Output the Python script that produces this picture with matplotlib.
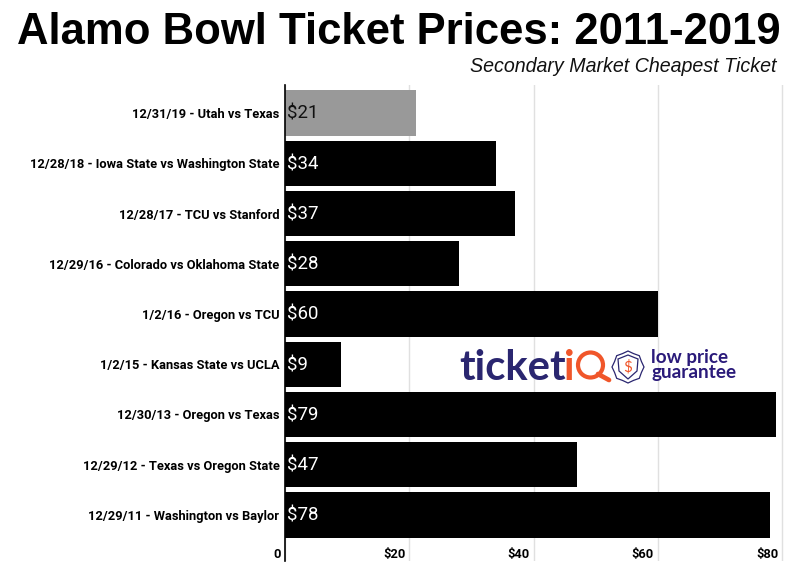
import numpy as np
import matplotlib
matplotlib.use("Agg")
import matplotlib.pyplot as plt
from matplotlib.patches import Circle, Polygon

# ---------------- DATA ----------------
games = [
    "12/31/19 - Utah vs Texas",
    "12/28/18 - Iowa State vs Washington State",
    "12/28/17 - TCU vs Stanford",
    "12/29/16 - Colorado vs Oklahoma State",
    "1/2/16 - Oregon vs TCU",
    "1/2/15 - Kansas State vs UCLA",
    "12/30/13 - Oregon vs Texas",
    "12/29/12 - Texas vs Oregon State",
    "12/29/11 - Washington vs Baylor",
]
prices = [21, 34, 37, 28, 60, 9, 79, 47, 78]
tick_values = [0, 20, 40, 60, 80]
tick_labels = ["0", "$20", "$40", "$60", "$80"]

W, H = 800, 577
NAVY = "#2a2670"
PURPLE = "#2a1a7a"
ORANGE = "#f0562a"
LABEL_FONT = "Roboto"
LABEL_SIZE = 9.25

fig = plt.figure(figsize=(W / 100, H / 100), dpi=100)
fig.patch.set_facecolor("white")

# axes box in pixels
left, right, top, bottom = 285, 790, 85, 561
ax = fig.add_axes([left / W, 1 - bottom / H, (right - left) / W, (bottom - top) / H])

ax.set_xlim(0, (right - left) / 6.215)
ax.set_ylim((bottom - 113) / 50.25, (top - 113) / 50.25)

y = np.arange(len(games))
colors = ["#999999"] + ["black"] * (len(games) - 1)
ax.barh(y, prices, height=0.905, color=colors, zorder=2)

for yi, price, c in zip(y, prices, colors):
    ax.annotate(f"${price}", (0, yi), xytext=(1.4, -0.7), textcoords="offset points",
                va="center", ha="left", fontsize=13.4, family=LABEL_FONT,
                color="#111111" if c != "black" else "white", zorder=3)

# ---- axes, grid, tick labels ----
for s in ["top", "right", "bottom"]:
    ax.spines[s].set_visible(False)
ax.spines["left"].set_color("black")
ax.spines["left"].set_linewidth(1.2)
ax.spines["left"].set_zorder(4)

ax.set_xticks(tick_values)
ax.set_xticklabels([])
ax.tick_params(axis="x", length=0)
ax.grid(axis="x", color="#e0e0e0", linewidth=1.0, zorder=1)
ax.set_axisbelow(True)

ax.set_yticks(y)
ax.set_yticklabels(games, fontsize=LABEL_SIZE, fontweight="bold", family=LABEL_FONT, color="black")
ax.tick_params(axis="y", length=0, pad=4)

# tick labels sit inside the plot, just left of their gridline
trans = ax.get_xaxis_transform()
for v, lab in zip(tick_values, tick_labels):
    ax.annotate(lab, (v, 0), xycoords=trans, xytext=(-2.9, 4.8), textcoords="offset points",
                ha="right", va="center", fontsize=LABEL_SIZE, fontweight="bold",
                family=LABEL_FONT, color="black")

# ---- titles ----
fig.text(399 / W, 1 - 32 / H, "Alamo Bowl Ticket Prices: 2011-2019", ha="center", va="center",
         fontsize=31.4, fontweight="bold", family="Liberation Sans", color="black")
fig.text(777 / W, 1 - 66 / H, "Secondary Market Cheapest Ticket", ha="right", va="center",
         fontsize=14.1, style="italic", family="Liberation Sans", color="#111111")

# ---- logo, drawn in pixel coords ----
lg = fig.add_axes([0, 0, 1, 1], facecolor="none")
lg.set_xlim(0, W)
lg.set_ylim(H, 0)
lg.axis("off")

lg.text(459, 365, "ticket", fontsize=30.2, family="Lato", fontweight="bold",
        color=NAVY, ha="left", va="center_baseline")
lg.text(564.5, 365, "i", fontsize=30.2, family="Lato", fontweight="bold",
        color=ORANGE, ha="left", va="center_baseline")
lg.add_patch(Circle((590.5, 365), 12.5, fill=False, edgecolor=ORANGE, linewidth=3.0))
lg.plot([598, 609], [374, 380], color=ORANGE, linewidth=3.4, solid_capstyle="round")

# shield badge
ang = np.linspace(0, 2 * np.pi, 17)[:-1]
pts = [(628 + (16 if i % 2 == 0 else 14.5) * np.sin(a), 367 + (16 if i % 2 == 0 else 14.5) * np.cos(a))
       for i, a in enumerate(ang)]
lg.add_patch(Polygon(pts, closed=True, fill=False, edgecolor=NAVY, linewidth=0.9))
shield = [(618, 359), (628, 355), (638, 359), (637, 371), (628, 379), (619, 371)]
lg.add_patch(Polygon(shield, closed=True, fill=False, edgecolor=NAVY, linewidth=0.9))
lg.text(628, 367, "$", fontsize=11, family="Lato", color=ORANGE, ha="center", va="center")

lg.text(651, 365, "low price\nguarantee", fontsize=13.6, family="Lato", fontweight="bold",
        color=PURPLE, ha="left", va="center", linespacing=0.85)

fig.savefig("out.png", dpi=100)
